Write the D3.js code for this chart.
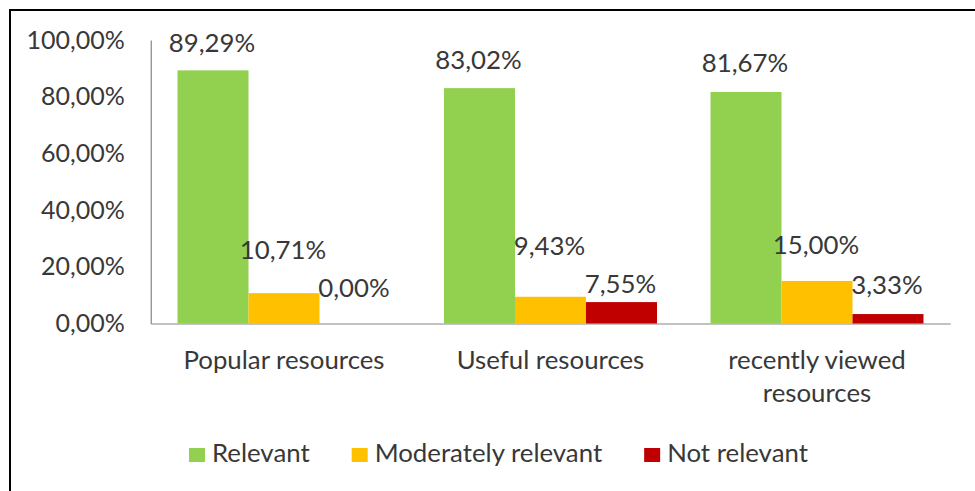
<!DOCTYPE html>
<html><head><meta charset="utf-8">
<script src="https://cdn.jsdelivr.net/npm/d3@7"></script>
<style>
body{margin:0;background:#fff}
svg{display:block}
text{font-family:Lato,"Open Sans",sans-serif;fill:#383838}
</style>
</head><body>
<svg id="c" width="975" height="491"></svg>
<script>
const categories = ["Popular resources", "Useful resources", "recently viewed resources"];
const categoryLines = [["Popular resources"], ["Useful resources"], ["recently viewed", "resources"]];
const seriesNames = ["Relevant", "Moderately relevant", "Not relevant"];
const relevant = [89.29, 83.02, 81.67];
const moderatelyRelevant = [10.71, 9.43, 15.00];
const notRelevant = [0.00, 7.55, 3.33];
const tickValues = [0, 20, 40, 60, 80, 100];
const colors = ["#92D050", "#FFC000", "#C00000"];
// vertical nudges of each value label (label centre relative to bar top), per series, per category
const labelDy = [[-28, -28.6, -29.5], [-43, -50.8, -36], [-35.5, -18, -29.6]];

const series = [relevant, moderatelyRelevant, notRelevant];
const svg = d3.select("#c");
const W = 975, H = 491;

// frame
svg.append("rect").attr("x", 10).attr("y", 10).attr("width", W + 20).attr("height", H + 20)
  .attr("fill", "none").attr("stroke", "#000").attr("stroke-width", 2);

const locale = d3.formatLocale({decimal: ",", thousands: ".", grouping: [3], currency: ["", ""]});
const fmt = v => locale.format(".2f")(v) + "%";

const x0 = d3.scaleBand().domain(categories).range([150.75, 950.25]).paddingInner(0.2008).paddingOuter(0.1004);
const x1 = d3.scaleBand().domain(d3.range(series.length)).range([0, x0.bandwidth()]);
const y = d3.scaleLinear().domain([0, 100]).range([323.5, 40]);

// y axis
const gy = svg.append("g").attr("transform", "translate(150.75,0)")
  .call(d3.axisLeft(y).tickValues(tickValues).tickFormat(fmt).tickSize(0).tickSizeOuter(0).tickPadding(26));
gy.select(".domain").attr("stroke", "#868686").attr("stroke-width", 1.2);
gy.selectAll("text").attr("font-size", 25).attr("fill", "#383838").attr("font-family", "Lato");

// x axis
const gx = svg.append("g").attr("transform", "translate(0,323.5)")
  .call(d3.axisBottom(x0).tickSize(0).tickSizeOuter(0).tickFormat(""));
gx.select(".domain").attr("stroke", "#868686").attr("stroke-width", 1.2);
gx.selectAll(".tick text").remove();

// category labels
categories.forEach((c, i) => {
  const cx = x0(c) + x0.bandwidth() / 2;
  const t = svg.append("text").attr("text-anchor", "middle").attr("font-size", 25.8)
    .attr("x", cx).attr("y", 369);
  categoryLines[i].forEach((line, j) => {
    t.append("tspan").attr("x", cx).attr("dy", j === 0 ? 0 : 33).text(line);
  });
});

// bars
series.forEach((vals, s) => {
  svg.append("g").selectAll("rect").data(vals).join("rect")
    .attr("x", (d, i) => x0(categories[i]) + x1(s))
    .attr("width", x1.bandwidth())
    .attr("y", d => y(d))
    .attr("height", d => y(0) - y(d))
    .attr("fill", colors[s]);
});

// value labels
series.forEach((vals, s) => {
  svg.append("g").selectAll("text").data(vals).join("text")
    .attr("text-anchor", "middle").attr("font-size", 25.8)
    .attr("x", (d, i) => x0(categories[i]) + x1(s) + x1.bandwidth() / 2 - 1)
    .attr("y", (d, i) => y(d) + labelDy[s][i] + 25.8 * 0.36)
    .text(d => fmt(d));
});

// legend
const lg = svg.append("g").attr("transform", "translate(189,0)");
let lx = 0;
seriesNames.forEach((n, s) => {
  lg.append("rect").attr("x", lx).attr("y", 448).attr("width", 16).attr("height", 14).attr("fill", colors[s]);
  const t = lg.append("text").attr("x", lx + 23).attr("y", 462).attr("font-size", 25.8).text(n);
  lx += 23 + t.node().getComputedTextLength() + 42;
});
</script>
</body></html>
